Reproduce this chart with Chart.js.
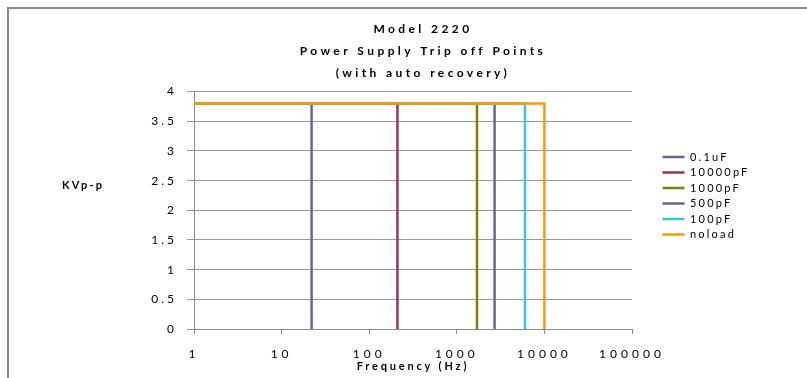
<!DOCTYPE html>
<html>
<head>
<meta charset="utf-8">
<script src="https://cdn.jsdelivr.net/npm/chart.js@4/dist/chart.umd.min.js"></script>
<style>
  html, body { margin: 0; padding: 0; background: #fff; }
  #wrap { width: 807px; height: 378px; position: relative; }
</style>
</head>
<body>
<div id="wrap"><canvas id="trip-chart"></canvas></div>
<script>
// Trip-off points per load (frequency in Hz, level in KVp-p)
const seriesNames = ["0.1uF", "10000pF", "1000pF", "500pF", "100pF", "noload"];
const tripFreqs = [22, 210, 1700, 2700, 6000, 10000];
const tripLevels = [3.8, 3.8, 3.8, 3.8, 3.8, 3.8];
const startFreq = 1;

const seriesColors = ["#666699", "#993366", "#808000", "#666699", "#33CCCC", "#FF9900"];

const xTickValues = [1, 10, 100, 1000, 10000, 100000];
const xTickLabels = ["1", "10", "100", "1000", "10000", "100000"];

const titleLines = ["Model 2220", "Power Supply Trip off Points", "(with auto recovery)"];
const xTitle = "Frequency (Hz)";
const yTitle = "KVp-p";

const FONT = "Lato";
const LEGEND_WIDTH = 175;

// extra letter spacing, the text is rendered quite airy
const spacing = { title: 3.4, legend: 2.2, xTicks: 4, xTitle: 2.8, yTicks: 3, yTitle: 2.2 };

function withSpacing(obj, method, px) {
    const fn = obj[method];
    obj[method] = function (...args) {
        const ctx = this.ctx;
        const prev = ctx.letterSpacing;
        ctx.letterSpacing = px + "px";
        const r = fn.apply(this, args);
        ctx.letterSpacing = prev;
        return r;
    };
}

const layoutTweaks = {
    id: "layoutTweaks",
    beforeLayout(chart) {
        if (chart._tweaked) return;
        chart._tweaked = true;
        const lg = chart.legend;
        const fit = lg.fit;
        lg.fit = function () {
            fit.call(this);
            this.width = LEGEND_WIDTH;
        };
        withSpacing(lg, "draw", spacing.legend);
        withSpacing(chart.titleBlock, "draw", spacing.title);
    },
    afterLayout(chart) {
        const lg = chart.legend;
        lg.left += 26;
        lg.top = 147;
        const { x, y } = chart.scales;
        if (!x._spaced) {
            withSpacing(x, "drawLabels", spacing.xTicks);
            withSpacing(x, "drawTitle", spacing.xTitle);
            withSpacing(y, "drawLabels", spacing.yTicks);
            x._spaced = y._spaced = true;
        }
    },
    beforeDraw(chart) {
        // outer frame
        const ctx = chart.ctx;
        ctx.save();
        ctx.strokeStyle = "#8a8a8a";
        ctx.lineWidth = 2;
        ctx.beginPath();
        ctx.moveTo(8, chart.height);
        ctx.lineTo(8, 8);
        ctx.lineTo(chart.width, 8);
        ctx.stroke();
        ctx.restore();
    },
    afterDraw(chart) {
        // horizontal y axis caption
        const ctx = chart.ctx;
        const a = chart.chartArea;
        ctx.save();
        ctx.font = "bold 11px " + FONT;
        ctx.letterSpacing = spacing.yTitle + "px";
        ctx.fillStyle = "#000";
        ctx.textBaseline = "middle";
        ctx.textAlign = "left";
        ctx.fillText(yTitle, a.left - 132, (a.top + a.bottom) / 2 - 25);
        ctx.restore();
    }
};

// noload goes first so it is painted on top, legend is reversed back
const datasets = seriesNames.map((name, i) => ({
    label: name,
    data: [
        { x: startFreq, y: tripLevels[i] },
        { x: tripFreqs[i], y: tripLevels[i] },
        { x: tripFreqs[i], y: 0 }
    ],
    borderColor: seriesColors[i],
    backgroundColor: seriesColors[i],
    borderWidth: 2.5,
    pointRadius: 0,
    showLine: true,
    fill: false,
    tension: 0
})).reverse();

const context = document.getElementById("trip-chart").getContext("2d");
const chart = new Chart(context, {
    type: "scatter",
    data: { datasets },
    plugins: [layoutTweaks],
    options: {
        responsive: true,
        maintainAspectRatio: false,
        animation: false,
        layout: { padding: { left: 39, right: 0, top: 10, bottom: 0 } },
        plugins: {
            tooltip: { enabled: false },
            title: {
                display: true,
                text: titleLines,
                color: "#000",
                font: { family: FONT, size: 12, weight: "bold", lineHeight: 1.85 },
                padding: { top: 8, bottom: 7 }
            },
            legend: {
                position: "right",
                align: "start",
                reverse: true,
                labels: {
                    boxWidth: 22,
                    boxHeight: 0,
                    padding: 4.5,
                    color: "#000",
                    font: { family: FONT, size: 11 }
                }
            }
        },
        scales: {
            x: {
                type: "logarithmic",
                min: 1,
                max: 100000,
                afterFit(s) { s.height = 49; },
                afterBuildTicks(s) { s.ticks = xTickValues.map(v => ({ value: v })); },
                ticks: {
                    autoSkip: false,
                    maxRotation: 0,
                    padding: 13,
                    color: "#000",
                    font: { family: FONT, size: 12 },
                    callback: (v) => xTickLabels[xTickValues.indexOf(v)]
                },
                grid: { drawOnChartArea: false, drawTicks: true, tickLength: 5, color: "#8c8c8c" },
                border: { color: "#8c8c8c" },
                title: {
                    display: true,
                    text: xTitle,
                    color: "#000",
                    font: { family: FONT, size: 11, weight: "bold" },
                    padding: { top: 0, bottom: 5 }
                }
            },
            y: {
                min: 0,
                max: 4,
                afterFit(s) { s.width = 155; },
                ticks: {
                    stepSize: 0.5,
                    padding: 10,
                    color: "#000",
                    font: { family: FONT, size: 12 },
                    callback: (v) => String(Number(v.toFixed(1)))
                },
                grid: { color: "#999999", tickLength: 7 },
                border: { color: "#8c8c8c" }
            }
        }
    }
});
</script>
</body>
</html>
